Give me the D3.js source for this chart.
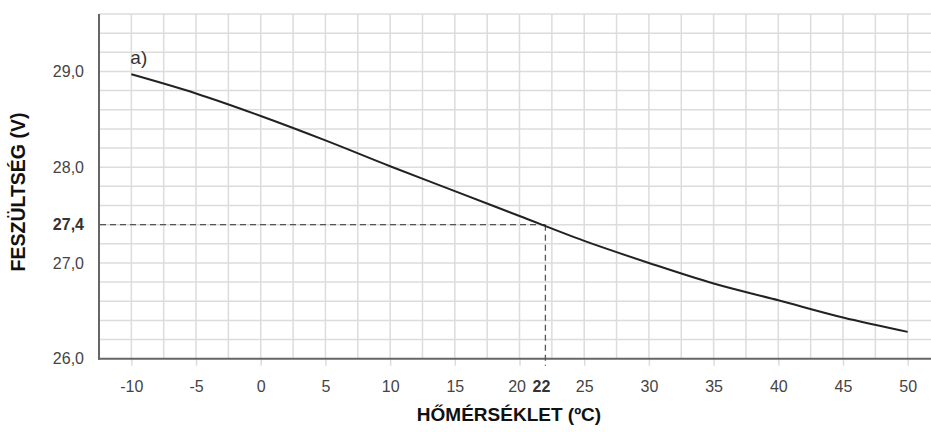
<!DOCTYPE html>
<html>
<head>
<meta charset="utf-8">
<script src="https://cdn.jsdelivr.net/npm/d3@7"></script>
<style>
  html, body { margin: 0; padding: 0; background: #fff; }
  svg { display: block; font-family: "Liberation Sans", Arial, sans-serif; }
</style>
</head>
<body>
<svg id="chart" width="931" height="432"></svg>
<script>
// Data
const temperatures = [-10, -5, 0, 5, 10, 15, 20, 25, 30, 35, 40, 45, 50];
const voltages = [28.97, 28.77, 28.535, 28.28, 28.01, 27.75, 27.49, 27.23, 27.0, 26.785, 26.61, 26.43, 26.28];
const xTickValues = [-10, -5, 0, 5, 10, 15, 20, 25, 30, 35, 40, 45, 50];
const yTickValues = [26, 27, 28, 29];
const markerTemp = 22;
const markerVolt = 27.4;
const xTitle = "HŐMÉRSÉKLET (ºC)";
const yTitle = "FESZÜLTSÉG (V)";
const curveLabel = "a)";

(function () {
const svg = d3.select("#chart");
const W = 931, H = 432;
const mLeft = 99, mTop = 14, mBottom = 358.7;
const FONT = "'Liberation Sans', Arial, sans-serif";
const TICK_FS = 16;

const x = d3.scaleLinear().domain([-12.5, 50]).range([mLeft, 907.7]);
const y = d3.scaleLinear().domain([26, 29.6]).range([mBottom, mTop]);

const fmt = v => d3.format(".1f")(v).replace(".", ",");

// grid
const gridV = d3.range(-10, 52.6, 2.5);
const gridH = d3.range(26.2, 29.61, 0.2);
const g = svg.append("g");
g.selectAll("line.gh").data(gridH).join("line")
  .attr("x1", mLeft).attr("x2", W)
  .attr("y1", d => y(d)).attr("y2", d => y(d))
  .attr("stroke", "#dcdcdc").attr("stroke-width", 1.5);
g.selectAll("line.gv").data(gridV).join("line")
  .attr("x1", d => x(d)).attr("x2", d => x(d))
  .attr("y1", mTop).attr("y2", mBottom)
  .attr("stroke", "#dcdcdc").attr("stroke-width", 1.5);

// x axis
const xAxis = d3.axisBottom(x).tickValues(xTickValues).tickSize(7).tickPadding(15)
  .tickFormat(d => d);
const xg = svg.append("g").attr("transform", `translate(0,${mBottom})`).call(xAxis);
xg.select(".domain").remove();
xg.selectAll(".tick line").attr("stroke", "#dcdcdc").attr("stroke-width", 1.5);
xg.selectAll(".tick text").attr("fill", "#444").attr("font-size", TICK_FS)
  .attr("font-family", FONT)
  .attr("dx", d => d === 20 ? -3 : 0);
svg.append("line").attr("x1", mLeft - 1).attr("x2", W).attr("y1", mBottom).attr("y2", mBottom)
  .attr("stroke", "#666").attr("stroke-width", 2);

// y axis
const yAxis = d3.axisLeft(y).tickValues(yTickValues).tickSize(0).tickPadding(15)
  .tickFormat(fmt);
const yg = svg.append("g").attr("transform", `translate(${mLeft},0)`).call(yAxis);
yg.select(".domain").remove();
yg.selectAll(".tick text").attr("fill", "#444").attr("font-size", TICK_FS)
  .attr("font-family", FONT);
svg.append("line").attr("x1", mLeft).attr("x2", mLeft).attr("y1", mTop).attr("y2", mBottom + 1)
  .attr("stroke", "#666").attr("stroke-width", 2);

// marker dashed lines
svg.append("line").attr("x1", mLeft + 1).attr("x2", x(markerTemp))
  .attr("y1", y(markerVolt)).attr("y2", y(markerVolt))
  .attr("stroke", "#555").attr("stroke-width", 1.3).attr("stroke-dasharray", "6,4");
svg.append("line").attr("x1", x(markerTemp)).attr("x2", x(markerTemp))
  .attr("y1", y(markerVolt)).attr("y2", mBottom + 7)
  .attr("stroke", "#555").attr("stroke-width", 1.3).attr("stroke-dasharray", "6,4");

// marker labels
svg.append("text").attr("x", x(markerTemp) - 4).attr("y", mBottom + 22).attr("dy", "0.71em")
  .attr("text-anchor", "middle").attr("font-size", TICK_FS).attr("font-weight", "bold")
  .attr("fill", "#333").text(markerTemp);
svg.append("text").attr("x", mLeft - 15).attr("y", y(markerVolt)).attr("dy", "0.32em")
  .attr("text-anchor", "end").attr("font-size", TICK_FS).attr("font-weight", "bold")
  .attr("fill", "#333").text(fmt(markerVolt));

// curve
const pts = temperatures.map((t, i) => [t, voltages[i]]);
const line = d3.line().x(d => x(d[0])).y(d => y(d[1])).curve(d3.curveMonotoneX);
svg.append("path").datum(pts).attr("d", line)
  .attr("fill", "none").attr("stroke", "#222").attr("stroke-width", 2);

// curve label
svg.append("text").attr("x", x(temperatures[0]) - 1).attr("y", y(voltages[0]) - 10)
  .attr("font-size", 19).attr("fill", "#333").text(curveLabel);

// titles
svg.append("text").attr("x", 509).attr("y", 421).attr("text-anchor", "middle")
  .attr("font-size", 19).attr("font-weight", "bold").attr("fill", "#111").text(xTitle);
svg.append("text").attr("transform", `translate(25,192) rotate(-90)`)
  .attr("text-anchor", "middle").attr("font-size", 19.5).attr("font-weight", "bold")
  .attr("fill", "#111").text(yTitle);
})();
</script>
</body>
</html>
